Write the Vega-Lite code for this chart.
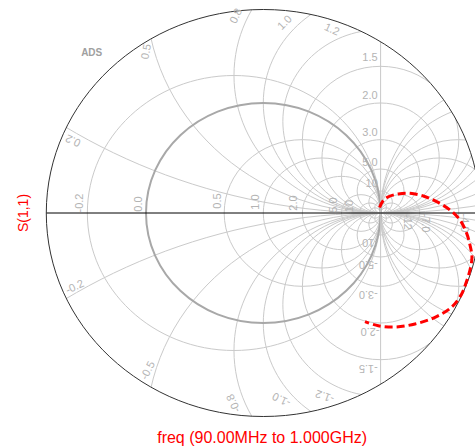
{
  "$schema": "https://vega.github.io/schema/vega-lite/v6.json",
  "width": 475,
  "height": 448,
  "autosize": "none",
  "padding": 0,
  "background": "white",
  "config": {"view": {"stroke": null}, "text": {"font": "Liberation Sans"}},
  "datasets": {
    "grid": [
      {"u": -0.25, "v": 0, "rho": 1.25},
      {"u": 0.3333, "v": 0, "rho": 0.6667},
      {"u": 0.5, "v": 0, "rho": 0.5},
      {"u": 0.6667, "v": 0, "rho": 0.3333},
      {"u": 0.8333, "v": 0, "rho": 0.1667},
      {"u": 0.9091, "v": 0, "rho": 0.0909},
      {"u": 0.9524, "v": 0, "rho": 0.0476},
      {"u": 1.0476, "v": 0, "rho": 0.0476},
      {"u": 1.0909, "v": 0, "rho": 0.0909},
      {"u": 1.1667, "v": 0, "rho": 0.1667},
      {"u": 1.3333, "v": 0, "rho": 0.3333},
      {"u": 1.5, "v": 0, "rho": 0.5},
      {"u": 1.6667, "v": 0, "rho": 0.6667},
      {"u": 2, "v": 0, "rho": 1},
      {"u": 2.25, "v": 0, "rho": 1.25},
      {"u": 1, "v": 5, "rho": 5},
      {"u": 1, "v": 2, "rho": 2},
      {"u": 1, "v": 1.25, "rho": 1.25},
      {"u": 1, "v": 1, "rho": 1},
      {"u": 1, "v": 0.8333, "rho": 0.8333},
      {"u": 1, "v": 0.6667, "rho": 0.6667},
      {"u": 1, "v": 0.5, "rho": 0.5},
      {"u": 1, "v": 0.3333, "rho": 0.3333},
      {"u": 1, "v": 0.2, "rho": 0.2},
      {"u": 1, "v": 0.1, "rho": 0.1},
      {"u": 1, "v": 0.05, "rho": 0.05},
      {"u": 1, "v": -5, "rho": 5},
      {"u": 1, "v": -2, "rho": 2},
      {"u": 1, "v": -1.25, "rho": 1.25},
      {"u": 1, "v": -1, "rho": 1},
      {"u": 1, "v": -0.8333, "rho": 0.8333},
      {"u": 1, "v": -0.6667, "rho": 0.6667},
      {"u": 1, "v": -0.5, "rho": 0.5},
      {"u": 1, "v": -0.3333, "rho": 0.3333},
      {"u": 1, "v": -0.2, "rho": 0.2},
      {"u": 1, "v": -0.1, "rho": 0.1},
      {"u": 1, "v": -0.05, "rho": 0.05}
    ],
    "r0": [{"u": 0, "v": 0, "rho": 1}],
    "edge": [{"u": 0, "v": 0, "rho": 1.85}],
    "curve": [
      {"i": 1, "u": 0.991, "v": 0.05},
      {"i": 2, "u": 1.02, "v": 0.109},
      {"i": 3, "u": 1.066, "v": 0.148},
      {"i": 4, "u": 1.151, "v": 0.173},
      {"i": 5, "u": 1.251, "v": 0.179},
      {"i": 6, "u": 1.364, "v": 0.155},
      {"i": 7, "u": 1.478, "v": 0.103},
      {"i": 8, "u": 1.592, "v": 0.027},
      {"i": 9, "u": 1.677, "v": -0.064},
      {"i": 10, "u": 1.734, "v": -0.185},
      {"i": 11, "u": 1.762, "v": -0.291},
      {"i": 12, "u": 1.779, "v": -0.4},
      {"i": 13, "u": 1.762, "v": -0.518},
      {"i": 14, "u": 1.728, "v": -0.636},
      {"i": 15, "u": 1.691, "v": -0.736},
      {"i": 16, "u": 1.606, "v": -0.855},
      {"i": 17, "u": 1.464, "v": -0.948},
      {"i": 18, "u": 1.293, "v": -1.009},
      {"i": 19, "u": 1.123, "v": -1.036},
      {"i": 20, "u": 0.98, "v": -1.025},
      {"i": 21, "u": 0.867, "v": -0.988}
    ],
    "labels": [
      {"g": "res", "t": "-0.2", "u": -1.5627, "v": 0.0909},
      {"g": "res", "t": "0.0", "u": -1.0597, "v": 0.0818},
      {"g": "res", "t": "0.5", "u": -0.3862, "v": 0.1091},
      {"g": "res", "t": "1.0", "u": -0.0622, "v": 0.1},
      {"g": "res", "t": "2.0", "u": 0.2617, "v": 0.0909},
      {"g": "res", "t": "5.0", "u": 0.6027, "v": 0.0727},
      {"g": "res", "t": "10", "u": 0.7434, "v": 0.0636},
      {"g": "rneg", "t": "-12", "u": 1.2251, "v": -0.0818},
      {"g": "rneg", "t": "-7.0", "u": 1.3786, "v": -0.0909},
      {"g": "rneg", "t": "-4.0", "u": 1.711, "v": -0.0909},
      {"g": "xpos", "t": "1.5", "u": 0.9096, "v": 1.4064},
      {"g": "xpos", "t": "2.0", "u": 0.9096, "v": 1.0664},
      {"g": "xpos", "t": "3.0", "u": 0.9096, "v": 0.73},
      {"g": "xpos", "t": "5.0", "u": 0.9096, "v": 0.4573},
      {"g": "xpos", "t": "10", "u": 0.9241, "v": 0.2609},
      {"g": "xneg", "t": "-10", "u": 0.9096, "v": -0.2664},
      {"g": "xneg", "t": "-5.0", "u": 0.8951, "v": -0.4636},
      {"g": "xneg", "t": "-3.0", "u": 0.8951, "v": -0.7364},
      {"g": "xneg", "t": "-2.0", "u": 0.9096, "v": -1.07},
      {"g": "xneg", "t": "-1.5", "u": 0.8951, "v": -1.4091},
      {"g": "b1", "t": "0.2", "u": -1.6198, "v": 0.6636},
      {"g": "b2", "t": "0.5", "u": -0.994, "v": 1.4664},
      {"g": "b3", "t": "0.8", "u": -0.2285, "v": 1.7909},
      {"g": "b4", "t": "1.0", "u": 0.185, "v": 1.7273},
      {"g": "b5", "t": "1.2", "u": 0.5831, "v": 1.6636},
      {"g": "b6", "t": "-0.2", "u": -1.6053, "v": -0.6755},
      {"g": "b7", "t": "-0.5", "u": -0.9804, "v": -1.4336},
      {"g": "b8", "t": "-0.8", "u": -0.2498, "v": -1.7273},
      {"g": "b1", "t": "-1.0", "u": 0.1569, "v": -1.6909},
      {"g": "b9", "t": "-1.2", "u": 0.526, "v": -1.6609}
    ]
  },
  "encoding": {
    "x": {"field": "u", "type": "quantitative", "scale": {"domain": [-2.2447, 1.8048], "nice": false, "zero": false}, "axis": null},
    "y": {"field": "v", "type": "quantitative", "scale": {"domain": [-2.1364, 1.9364], "nice": false, "zero": false}, "axis": null}
  },
  "layer": [
    {
      "data": {"name": "grid"},
      "mark": {"type": "point", "shape": "M-1,0A1,0.9378,0,1,1,1,0A1,0.9378,0,1,1,-1,0Z", "filled": false, "stroke": "#cacaca", "strokeWidth": 1, "opacity": 1},
      "encoding": {
        "size": {"field": "rho", "type": "quantitative", "scale": {"type": "pow", "exponent": 2, "domain": [0, 1], "range": [0, 55037]}, "legend": null}
      }
    },
    {
      "data": {"name": "r0"},
      "mark": {"type": "point", "shape": "M-1,0A1,0.9378,0,1,1,1,0A1,0.9378,0,1,1,-1,0Z", "filled": false, "stroke": "#a8a8a8", "strokeWidth": 2, "opacity": 1},
      "encoding": {
        "size": {"field": "rho", "type": "quantitative", "legend": null}
      }
    },
    {
      "data": {"values": [{"u": 1}]},
      "mark": {"type": "rule", "color": "#c8c8c8", "strokeWidth": 1},
      "encoding": {"y": null}
    },
    {
      "data": {"values": [{"v": 0}]},
      "mark": {"type": "rule", "color": "#000000", "strokeWidth": 1},
      "encoding": {"x": null}
    },
    {
      "data": {"name": "edge"},
      "mark": {"type": "point", "shape": "M-6,-6L6,-6L6,6L-6,6ZM-1,0A1,0.9378,0,1,0,1,0A1,0.9378,0,1,0,-1,0Z", "filled": true, "fill": "#ffffff", "strokeWidth": 0, "opacity": 1},
      "encoding": {
        "size": {"field": "rho", "type": "quantitative", "legend": null}
      }
    },
    {
      "data": {"name": "edge"},
      "mark": {"type": "point", "shape": "M-1,0A1,0.9378,0,1,1,1,0A1,0.9378,0,1,1,-1,0Z", "filled": false, "stroke": "#333333", "strokeWidth": 1, "opacity": 1},
      "encoding": {
        "size": {"field": "rho", "type": "quantitative", "legend": null}
      }
    },
    {"data": {"name": "labels"}, "transform": [{"filter": "datum.g == 'res'"}], "mark": {"type": "text", "angle": 270, "fontSize": 11, "color": "#b4b4b4"}, "encoding": {"text": {"field": "t"}}},
    {"data": {"name": "labels"}, "transform": [{"filter": "datum.g == 'rneg'"}], "mark": {"type": "text", "angle": 90, "fontSize": 11, "color": "#b4b4b4"}, "encoding": {"text": {"field": "t"}}},
    {"data": {"name": "labels"}, "transform": [{"filter": "datum.g == 'xpos'"}], "mark": {"type": "text", "angle": 0, "fontSize": 11, "color": "#b4b4b4"}, "encoding": {"text": {"field": "t"}}},
    {"data": {"name": "labels"}, "transform": [{"filter": "datum.g == 'xneg'"}], "mark": {"type": "text", "angle": 180, "fontSize": 11, "color": "#b4b4b4"}, "encoding": {"text": {"field": "t"}}},
    {"data": {"name": "labels"}, "transform": [{"filter": "datum.g == 'b1'"}], "mark": {"type": "text", "angle": 205, "fontSize": 11, "color": "#b4b4b4"}, "encoding": {"text": {"field": "t"}}},
    {"data": {"name": "labels"}, "transform": [{"filter": "datum.g == 'b2'"}], "mark": {"type": "text", "angle": 280, "fontSize": 11, "color": "#b4b4b4"}, "encoding": {"text": {"field": "t"}}},
    {"data": {"name": "labels"}, "transform": [{"filter": "datum.g == 'b3'"}], "mark": {"type": "text", "angle": 295, "fontSize": 11, "color": "#b4b4b4"}, "encoding": {"text": {"field": "t"}}},
    {"data": {"name": "labels"}, "transform": [{"filter": "datum.g == 'b4'"}], "mark": {"type": "text", "angle": 315, "fontSize": 11, "color": "#b4b4b4"}, "encoding": {"text": {"field": "t"}}},
    {"data": {"name": "labels"}, "transform": [{"filter": "datum.g == 'b5'"}], "mark": {"type": "text", "angle": 25, "fontSize": 11, "color": "#b4b4b4"}, "encoding": {"text": {"field": "t"}}},
    {"data": {"name": "labels"}, "transform": [{"filter": "datum.g == 'b6'"}], "mark": {"type": "text", "angle": 335, "fontSize": 11, "color": "#b4b4b4"}, "encoding": {"text": {"field": "t"}}},
    {"data": {"name": "labels"}, "transform": [{"filter": "datum.g == 'b7'"}], "mark": {"type": "text", "angle": 297, "fontSize": 11, "color": "#b4b4b4"}, "encoding": {"text": {"field": "t"}}},
    {"data": {"name": "labels"}, "transform": [{"filter": "datum.g == 'b8'"}], "mark": {"type": "text", "angle": 245, "fontSize": 11, "color": "#b4b4b4"}, "encoding": {"text": {"field": "t"}}},
    {"data": {"name": "labels"}, "transform": [{"filter": "datum.g == 'b9'"}], "mark": {"type": "text", "angle": 200, "fontSize": 11, "color": "#b4b4b4"}, "encoding": {"text": {"field": "t"}}},
    {
      "data": {"values": [{"t": "ADS", "u": -1.463, "v": 1.459}]},
      "mark": {"type": "text", "fontSize": 10, "fontWeight": "bold", "color": "#a0a0a0"},
      "encoding": {"text": {"field": "t"}}
    },
    {
      "data": {"name": "curve"},
      "mark": {"type": "line", "color": "#ff0000", "strokeWidth": 3, "strokeDash": [8, 4], "interpolate": "catmull-rom"},
      "encoding": {"order": {"field": "i", "type": "quantitative"}}
    },
    {
      "data": {"values": [{"t": "S(1,1)", "u": -2.04, "v": 0}]},
      "mark": {"type": "text", "angle": 270, "fontSize": 14, "color": "#ff0000"},
      "encoding": {"text": {"field": "t"}}
    },
    {
      "data": {"values": [{"t": "freq (90.00MHz to 1.000GHz)", "u": -0.01, "v": -2.045}]},
      "mark": {"type": "text", "fontSize": 16, "color": "#ff0000"},
      "encoding": {"text": {"field": "t"}}
    }
  ]
}
